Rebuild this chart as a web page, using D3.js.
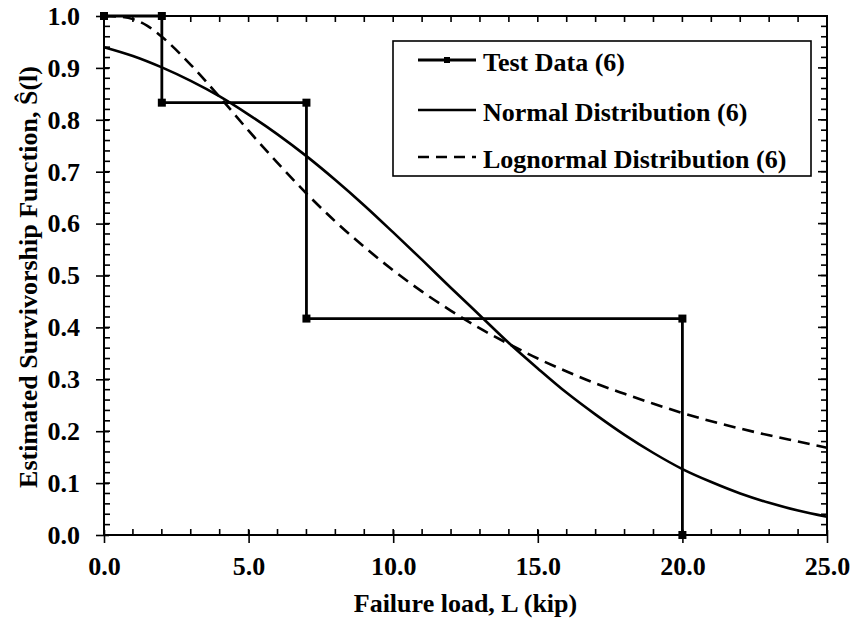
<!DOCTYPE html>
<html>
<head>
<meta charset="utf-8">
<script src="https://cdn.jsdelivr.net/npm/d3@7"></script>
<style>
  body { margin: 0; background: #fff; }
  text { font-family: "Liberation Serif", "Times New Roman", serif; font-weight: bold; fill: #000; }
</style>
</head>
<body>
<div id="chart"></div>
<script>
// Data
const testLoad = [0, 2, 2, 7, 7, 20, 20]
const testSurv = [1.0, 1.0, 0.833, 0.833, 0.417, 0.417, 0.0]

const curveLoad = [0, 1, 2, 3, 4, 5, 6, 7, 8, 9, 10, 11, 12, 13, 14, 15, 16, 17, 18, 19, 20, 21, 22, 23, 24, 25]
const normalSurv = [0.940, 0.923, 0.901, 0.875, 0.845, 0.810, 0.772, 0.730, 0.684, 0.635, 0.583, 0.530, 0.476,
  0.423, 0.370, 0.321, 0.274, 0.232, 0.193, 0.158, 0.127, 0.102, 0.080, 0.062, 0.047, 0.035]

const lognormLoad = [0, 0.5, 1, 1.5, 2, 3, 4, 5, 6, 7, 8, 9, 10, 11, 12, 13, 14, 15, 16, 17, 18, 19, 20, 21, 22, 23, 24, 25]
const lognormSurv = [1.0, 0.999, 0.994, 0.981, 0.960, 0.906, 0.844, 0.779, 0.717, 0.658, 0.604, 0.555, 0.510, 0.469,
  0.432, 0.398, 0.368, 0.340, 0.315, 0.292, 0.272, 0.253, 0.235, 0.219, 0.205, 0.192, 0.180, 0.168]

const xTicks = [0, 5, 10, 15, 20, 25]
const yTicks = [0, 0.1, 0.2, 0.3, 0.4, 0.5, 0.6, 0.7, 0.8, 0.9, 1.0]
const legendLabels = ['Test Data (6)', 'Normal Distribution (6)', 'Lognormal Distribution (6)']

// Dimensions
let dimensions = {
  width: 854,
  height: 620,
  margin: { top: 16, bottom: 85, left: 104, right: 27 }
}
dimensions.ctrWidth = dimensions.width - dimensions.margin.left - dimensions.margin.right
dimensions.ctrHeight = dimensions.height - dimensions.margin.top - dimensions.margin.bottom

const svg = d3.select('#chart')
  .append('svg')
  .attr('width', dimensions.width)
  .attr('height', dimensions.height)

const ctr = svg.append('g')
  .attr('transform', `translate(${dimensions.margin.left}, ${dimensions.margin.top})`)

// Scales
const xScale = d3.scaleLinear().domain([0, 25]).range([0, dimensions.ctrWidth])
const yScale = d3.scaleLinear().domain([0, 1]).range([dimensions.ctrHeight, 0])

const minorX = d3.range(0, 26, 1)
const minorY = d3.range(0, 51).map(i => i / 50)

// Minor ticks (inside) on all four sides
const tickG = ctr.append('g').attr('stroke', '#000').attr('stroke-width', 1.6)
tickG.selectAll('.mxb').data(minorX).join('line')
  .attr('x1', d => xScale(d)).attr('x2', d => xScale(d))
  .attr('y1', dimensions.ctrHeight).attr('y2', dimensions.ctrHeight - 6)
tickG.selectAll('.mxt').data(minorX).join('line')
  .attr('x1', d => xScale(d)).attr('x2', d => xScale(d))
  .attr('y1', 0).attr('y2', 6)
tickG.selectAll('.myl').data(minorY).join('line')
  .attr('x1', 0).attr('x2', 6)
  .attr('y1', d => yScale(d)).attr('y2', d => yScale(d))
tickG.selectAll('.myr').data(minorY).join('line')
  .attr('x1', dimensions.ctrWidth).attr('x2', dimensions.ctrWidth - 6)
  .attr('y1', d => yScale(d)).attr('y2', d => yScale(d))

// Major ticks on right side (inside, longer)
tickG.selectAll('.Myr').data(yTicks).join('line')
  .attr('x1', dimensions.ctrWidth).attr('x2', dimensions.ctrWidth - 9)
  .attr('y1', d => yScale(d)).attr('y2', d => yScale(d))

// Axes with crossing major ticks
const xAxis = d3.axisBottom(xScale)
  .tickValues(xTicks)
  .tickSizeInner(8)
  .tickSizeOuter(0)
  .tickPadding(14)
  .tickFormat(d3.format('.1f'))

const xAxisGroup = ctr.append('g')
  .attr('transform', `translate(0, ${dimensions.ctrHeight})`)
  .call(xAxis)
xAxisGroup.select('.domain').remove()
xAxisGroup.selectAll('.tick line').attr('y1', -5).attr('stroke-width', 1.6)
xAxisGroup.selectAll('.tick text').style('font-size', '26px')

const yAxis = d3.axisLeft(yScale)
  .tickValues(yTicks)
  .tickSizeInner(8)
  .tickSizeOuter(0)
  .tickPadding(16)
  .tickFormat(d3.format('.1f'))

const yAxisGroup = ctr.append('g').call(yAxis)
yAxisGroup.select('.domain').remove()
yAxisGroup.selectAll('.tick line').attr('x1', 5).attr('stroke-width', 1.6)
yAxisGroup.selectAll('.tick text').style('font-size', '26px')

// Frame
ctr.append('rect')
  .attr('width', dimensions.ctrWidth)
  .attr('height', dimensions.ctrHeight)
  .attr('fill', 'none')
  .attr('stroke', '#000')
  .attr('stroke-width', 2)

// Axis titles
svg.append('text')
  .text('Failure load, L (kip)')
  .attr('x', dimensions.margin.left + dimensions.ctrWidth / 2)
  .attr('y', 612)
  .attr('text-anchor', 'middle')
  .style('font-size', '26px')

svg.append('text')
  .text('Estimated Survivorship Function, Ŝ(l)')
  .attr('transform', 'translate(37, 277) rotate(-90)')
  .attr('text-anchor', 'middle')
  .style('font-size', '26px')

// Lines
const line = d3.line()
  .x(d => xScale(d[0]))
  .y(d => yScale(d[1]))

const smooth = d3.line()
  .x(d => xScale(d[0]))
  .y(d => yScale(d[1]))
  .curve(d3.curveMonotoneX)

ctr.append('path')
  .datum(lognormLoad.map((x, i) => [x, lognormSurv[i]]))
  .attr('d', smooth)
  .attr('fill', 'none')
  .attr('stroke', '#000')
  .attr('stroke-width', 2.6)
  .attr('stroke-dasharray', '12 7')

ctr.append('path')
  .datum(curveLoad.map((x, i) => [x, normalSurv[i]]))
  .attr('d', smooth)
  .attr('fill', 'none')
  .attr('stroke', '#000')
  .attr('stroke-width', 2.6)

const testPts = testLoad.map((x, i) => [x, testSurv[i]])
ctr.append('path')
  .datum(testPts)
  .attr('d', line)
  .attr('fill', 'none')
  .attr('stroke', '#000')
  .attr('stroke-width', 2.8)

ctr.selectAll('.marker')
  .data(testPts)
  .join('rect')
  .attr('x', d => xScale(d[0]) - 4)
  .attr('y', d => yScale(d[1]) - 4)
  .attr('width', 8)
  .attr('height', 8)
  .attr('fill', '#000')

// Legend
const legend = svg.append('g')
legend.append('rect')
  .attr('x', 393).attr('y', 41)
  .attr('width', 418).attr('height', 135)
  .attr('fill', '#fff')
  .attr('stroke', '#000')
  .attr('stroke-width', 1.6)

const legendY = [60, 110, 157]
const legendDash = [null, null, '11 7']
legendLabels.forEach((label, i) => {
  legend.append('line')
    .attr('x1', 418).attr('x2', 476)
    .attr('y1', legendY[i]).attr('y2', legendY[i])
    .attr('stroke', '#000')
    .attr('stroke-width', i === 0 ? 2.8 : 2.6)
    .attr('stroke-dasharray', legendDash[i])
  if (i === 0) {
    legend.append('rect')
      .attr('x', 444).attr('y', legendY[i] - 3)
      .attr('width', 6).attr('height', 6)
      .attr('fill', '#000')
  }
  legend.append('text')
    .text(label)
    .attr('x', 483)
    .attr('y', legendY[i] + 11)
    .style('font-size', '26px')
})
</script>
</body>
</html>
